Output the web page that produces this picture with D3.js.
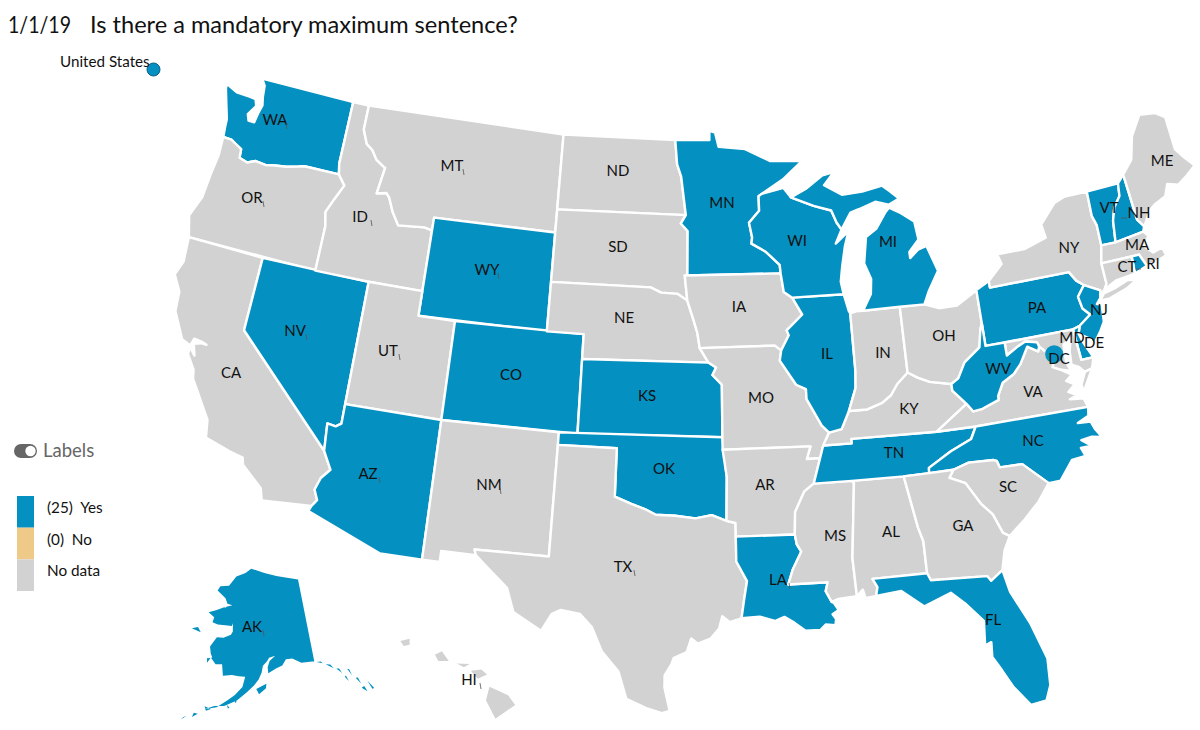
<!DOCTYPE html>
<html>
<head>
<meta charset="utf-8">
<script src="https://cdn.jsdelivr.net/npm/d3@7"></script>
<style>
  html, body { margin: 0; background: #fff; }
  text { font-family: Lato, "Open Sans", sans-serif; fill: #111; }
</style>
</head>
<body>
<div id="map"></div>
<script>
// answers
var yesStates = ["WA","NV","WY","CO","AZ","KS","OK","MN","WI","IL","MI","LA","TN","NC","FL","WV","PA","NJ","DE","VT","NH","RI","AK"];
var noStates = [];
var yesDistrict = ["DC"];
var legendLabels = ["(25)  Yes", "(0)  No", "No data"];
var titleDate = "1/1/19";
var titleText = "Is there a mandatory maximum sentence?";

// rough state outlines, lon/lat
var stateShapes = {
  WA: [[[-122.76,49],[-117.03,49],[-117.04,46.42],[-116.92,46],[-118.98,46],[-119.3,45.93],[-120,45.8],[-120.65,45.73],[-121.2,45.65],[-121.8,45.7],[-122.25,45.55],[-122.75,45.65],[-122.8,46],[-123.2,46.15],[-123.5,46.26],[-124,46.27],[-124.07,46.7],[-124.1,47],[-124.35,47.5],[-124.7,48.2],[-124.72,48.38],[-124,48.17],[-123.15,48.15],[-122.8,48.12],[-122.65,47.85],[-123,47.45],[-122.85,47.2],[-122.5,47.2],[-122.42,47.6],[-122.3,47.95],[-122.42,48.3],[-122.5,48.75]]],
  OR: [[[-124,46.27],[-123.5,46.26],[-123.2,46.15],[-122.8,46],[-122.75,45.65],[-122.25,45.55],[-121.8,45.7],[-121.2,45.65],[-120.65,45.73],[-120,45.8],[-119.3,45.93],[-118.98,46],[-116.92,46],[-116.47,45.6],[-116.85,45],[-117.2,44.4],[-117.03,43.83],[-117.03,42],[-124.21,42],[-124.55,42.84],[-124.15,43.7],[-124.07,44.7],[-123.95,45.5]]],
  CA: [[[-124.21,42],[-120,42],[-120,39],[-114.63,35],[-114.14,34.3],[-114.53,33.9],[-114.72,33.4],[-114.5,33],[-114.72,32.72],[-117.12,32.53],[-117.3,33],[-118.4,33.75],[-118.5,34.03],[-119.2,34.15],[-120.5,34.45],[-120.65,35.15],[-121.9,36.6],[-122,36.95],[-122.5,37.5],[-122.48,37.78],[-122.15,37.5],[-122.35,37.95],[-122,38.05],[-121.7,38.05],[-122,38.12],[-122.4,38.15],[-122.5,37.85],[-123,38],[-123.75,39],[-123.85,39.8],[-124.35,40.4],[-124.1,41]]],
  NV: [[[-120,42],[-114.04,42],[-114.04,36.2],[-114.3,36.05],[-114.74,36.1],[-114.63,35],[-120,39]]],
  ID: [[[-117.03,49],[-116.05,49],[-116.05,48],[-115.7,47.45],[-115.3,47.25],[-114.95,46.9],[-114.4,46.65],[-114.35,46.65],[-114.55,45.56],[-114,45.65],[-113.8,45.5],[-113.45,44.95],[-113,44.45],[-111.5,44.55],[-111.05,44.48],[-111.05,42],[-114.04,42],[-117.03,42],[-117.03,43.83],[-117.2,44.4],[-116.85,45],[-116.47,45.6],[-116.92,46],[-117.04,46.42]]],
  MT: [[[-116.05,49],[-104.05,49],[-104.05,45],[-111.05,45],[-111.05,44.48],[-111.5,44.55],[-113,44.45],[-113.45,44.95],[-113.8,45.5],[-114,45.65],[-114.55,45.56],[-114.35,46.65],[-114.4,46.65],[-114.95,46.9],[-115.3,47.25],[-115.7,47.45],[-116.05,48]]],
  WY: [[[-111.05,45],[-104.05,45],[-104.05,41],[-111.05,41]]],
  UT: [[[-114.04,42],[-111.05,42],[-111.05,41],[-109.05,41],[-109.05,37],[-114.04,37]]],
  CO: [[[-109.05,41],[-102.05,41],[-102.05,37],[-109.05,37]]],
  AZ: [[[-114.04,37],[-109.05,37],[-109.05,31.33],[-111.07,31.33],[-114.81,32.5],[-114.72,32.72],[-114.5,33],[-114.72,33.4],[-114.53,33.9],[-114.14,34.3],[-114.63,35],[-114.74,36.1],[-114.3,36.05],[-114.04,36.2]]],
  NM: [[[-109.05,37],[-103,37],[-103.04,32],[-106.62,32],[-106.53,31.78],[-108.2,31.78],[-108.2,31.33],[-109.05,31.33]]],
  ND: [[[-104.05,49],[-97.23,49],[-97.1,48],[-96.85,47.5],[-96.56,45.94],[-104.05,45.94]]],
  SD: [[[-104.05,45.94],[-96.56,45.94],[-96.85,45.6],[-96.45,45.3],[-96.45,43.5],[-96.6,43.5],[-96.45,42.49],[-97,42.76],[-97.9,42.8],[-98.5,43],[-104.05,43]]],
  NE: [[[-104.05,43],[-98.5,43],[-97.9,42.8],[-97,42.76],[-96.45,42.49],[-96.1,41.7],[-95.9,41.2],[-95.77,40.58],[-95.31,40],[-102.05,40],[-102.05,41],[-104.05,41]]],
  KS: [[[-102.05,40],[-95.31,40],[-94.9,39.8],[-95.1,39.5],[-94.61,39.11],[-94.62,37],[-102.04,37]]],
  OK: [[[-103,37],[-94.62,37],[-94.43,35.4],[-94.48,33.64],[-95.2,33.88],[-96,33.75],[-97,33.85],[-97.95,33.88],[-98.5,34.1],[-99.2,34.3],[-100,34.56],[-100,36.5],[-103,36.5]]],
  TX: [[[-103,36.5],[-100,36.5],[-100,34.56],[-99.2,34.3],[-98.5,34.1],[-97.95,33.88],[-97,33.85],[-96,33.75],[-95.2,33.88],[-94.48,33.64],[-94.04,33.55],[-94.04,33],[-94.04,32],[-93.55,31.2],[-93.7,30.5],[-93.85,29.7],[-94.4,29.55],[-94.75,29.8],[-94.9,29.3],[-95.3,28.9],[-95.9,28.7],[-96.2,28.9],[-96.4,28.35],[-97,28.1],[-97.1,27.85],[-97.4,27.4],[-97.4,26.9],[-97.15,25.95],[-97.5,25.85],[-98.2,26.05],[-99.1,26.4],[-99.5,27.5],[-100.3,28.3],[-100.8,29.25],[-101.4,29.77],[-102.3,29.88],[-102.7,29.7],[-103.15,28.98],[-104.5,29.65],[-104.9,30.6],[-106,31.4],[-106.53,31.78],[-106.62,32],[-103.04,32]]],
  MN: [[[-97.23,49],[-95.15,49],[-95.15,49.38],[-94.8,49.3],[-94.6,48.72],[-93,48.6],[-91.5,48.07],[-89.6,48],[-90.8,47.3],[-92.1,46.75],[-92.29,46.66],[-92.29,46.07],[-92.9,45.6],[-92.75,45],[-92.8,44.75],[-92,44.4],[-91.25,43.85],[-91.22,43.5],[-96.45,43.5],[-96.45,45.3],[-96.85,45.6],[-96.56,45.94],[-96.85,47.5],[-97.1,48]]],
  IA: [[[-96.6,43.5],[-91.22,43.5],[-91.1,42.75],[-90.65,42.5],[-90.15,41.8],[-91.05,41.2],[-90.95,41],[-91.4,40.4],[-91.73,40.61],[-95.77,40.58],[-95.9,41.2],[-96.1,41.7],[-96.45,42.49]]],
  MO: [[[-95.77,40.58],[-91.73,40.61],[-91.4,40.4],[-91.5,40],[-90.7,39],[-90.2,38.8],[-90.2,38.4],[-89.5,37.3],[-89.15,37],[-89.5,36.5],[-89.7,36],[-90.37,36],[-90.15,36.5],[-94.62,36.5],[-94.62,37],[-94.61,39.11],[-95.1,39.5],[-94.9,39.8],[-95.31,40]]],
  AR: [[[-94.62,36.5],[-90.15,36.5],[-90.37,36],[-89.7,36],[-90.1,35],[-90.6,34.7],[-91.1,33.9],[-91.17,33],[-94.04,33],[-94.04,33.55],[-94.48,33.64],[-94.43,35.4]]],
  LA: [[[-94.04,33],[-91.17,33],[-91.1,32.6],[-90.9,32.3],[-91.35,31.6],[-91.6,31],[-89.73,31],[-89.85,30.65],[-89.6,30.2],[-89.5,30.15],[-89.3,29.85],[-89.6,29.7],[-89.45,29.5],[-89.5,29.25],[-89.95,29.3],[-90.2,29.1],[-90.9,29.1],[-91.4,29.45],[-91.85,29.7],[-92.3,29.55],[-93,29.75],[-93.85,29.7],[-93.7,30.5],[-93.55,31.2],[-94.04,32]],
       [[-89.2,29.2],[-89,29.05],[-89.1,29]]],
  MS: [[[-90.1,35],[-88.2,35],[-88.1,34.9],[-88.47,31.9],[-88.4,30.35],[-89.3,30.3],[-89.6,30.2],[-89.85,30.65],[-89.73,31],[-91.6,31],[-91.35,31.6],[-90.9,32.3],[-91.1,32.6],[-91.17,33],[-91.1,33.9],[-90.6,34.7]]],
  AL: [[[-88.2,35],[-85.6,34.98],[-85.18,32.87],[-85,32.3],[-85,31],[-87.6,31],[-87.4,30.65],[-87.5,30.3],[-88,30.25],[-88.1,30.6],[-88.4,30.35],[-88.47,31.9],[-88.1,34.9]]],
  TN: [[[-89.7,36],[-89.5,36.5],[-88.05,36.5],[-88.05,36.68],[-83.68,36.6],[-81.68,36.59],[-82,36.12],[-83.1,35.75],[-84.3,35.2],[-84.32,34.99],[-85.6,34.98],[-88.2,35],[-90.1,35]]],
  KY: [[[-89.5,36.5],[-89.15,37],[-88.5,37.1],[-88.05,37.8],[-87.1,37.8],[-86.3,38],[-85.8,38.27],[-85.4,38.7],[-84.8,39.1],[-84.3,38.85],[-83.7,38.62],[-82.6,38.42],[-82.6,38.15],[-81.97,37.54],[-83.68,36.6],[-88.05,36.68],[-88.05,36.5]]],
  IL: [[[-90.65,42.5],[-87.8,42.49],[-87.6,41.8],[-87.53,41.7],[-87.53,39.35],[-87.6,38.7],[-88.05,37.8],[-88.5,37.1],[-89.15,37],[-89.5,37.3],[-90.2,38.4],[-90.2,38.8],[-90.7,39],[-91.5,40],[-91.4,40.4],[-90.95,41],[-91.05,41.2],[-90.15,41.8]]],
  IN: [[[-87.53,41.7],[-87.2,41.76],[-86.82,41.76],[-84.8,41.76],[-84.8,39.1],[-85.4,38.7],[-85.8,38.27],[-86.3,38],[-87.1,37.8],[-88.05,37.8],[-87.6,38.7],[-87.53,39.35]]],
  OH: [[[-84.8,41.76],[-83.45,41.73],[-82.7,41.5],[-81.7,41.5],[-80.52,41.98],[-80.52,40.64],[-80.65,40.4],[-80.85,39.7],[-81.75,39.2],[-82.2,38.6],[-82.6,38.42],[-83.7,38.62],[-84.3,38.85],[-84.8,39.1]]],
  WI: [[[-92.29,46.66],[-92.1,46.75],[-90.8,46.95],[-90.4,46.55],[-89.1,46.14],[-88.1,45.9],[-87.85,45.4],[-87.6,45.1],[-88,44.55],[-87.4,44.9],[-87.1,45.25],[-87.5,44.4],[-87.75,43.6],[-87.9,43],[-87.8,42.49],[-90.65,42.5],[-91.1,42.75],[-91.22,43.5],[-91.25,43.85],[-92,44.4],[-92.8,44.75],[-92.75,45],[-92.9,45.6],[-92.29,46.07]]],
  MI: [[[-90.4,46.55],[-89.5,46.85],[-88.45,47.35],[-87.75,47.45],[-88.4,46.95],[-87.4,46.5],[-86.2,46.55],[-85,46.7],[-84.6,46.45],[-84.1,46.1],[-84.75,45.9],[-85.5,46.08],[-86.5,45.85],[-87,45.75],[-87.6,45.1],[-87.85,45.4],[-88.1,45.9],[-89.1,46.14]],
       [[-86.82,41.76],[-86.3,42.4],[-86.2,43],[-86.5,43.65],[-86.25,44.7],[-85.6,45],[-85,45.6],[-84.75,45.78],[-84.1,45.5],[-83.4,45.1],[-83.3,44.35],[-83.9,43.9],[-83.9,43.65],[-83.4,43.95],[-82.9,44.05],[-82.45,43],[-83.1,42.25],[-83.45,41.73],[-84.8,41.76]]],
  PA: [[[-80.52,42],[-79.76,42.27],[-79.76,42],[-75.35,42],[-75.05,41.6],[-74.7,41.36],[-75.15,40.95],[-75.05,40.45],[-74.72,40.15],[-75.4,39.8],[-75.79,39.72],[-80.52,39.72],[-80.52,40.64]]],
  NY: [[[-79.76,42],[-79.76,42.27],[-78.9,42.85],[-79.05,43.27],[-77.5,43.27],[-76.2,43.55],[-76.3,44.1],[-75.3,44.85],[-74.7,45],[-73.35,45],[-73.4,44],[-73.25,43.6],[-73.27,42.75],[-73.5,42.05],[-73.49,41.2],[-73.66,41],[-73.92,40.8],[-74,40.7],[-73.9,41],[-74.7,41.36],[-75.05,41.6],[-75.35,42]],
       [[-74.03,40.6],[-73.75,40.85],[-73.1,40.95],[-72.3,41.15],[-71.9,41.05],[-72.5,40.82],[-73.5,40.6]]],
  NJ: [[[-74.7,41.36],[-73.9,41],[-74,40.7],[-74.25,40.5],[-74,40.45],[-74.1,39.75],[-74.4,39.4],[-74.9,38.93],[-75,39.2],[-75.55,39.5],[-75.4,39.8],[-74.72,40.15],[-75.05,40.45],[-75.15,40.95]]],
  DE: [[[-75.79,39.72],[-75.4,39.8],[-75.55,39.5],[-75.4,39.1],[-75.05,38.45],[-75.7,38.45]]],
  MD: [[[-79.49,39.72],[-75.79,39.72],[-75.7,38.45],[-75.05,38.45],[-75.25,38.03],[-75.65,37.95],[-75.9,38.2],[-76.25,38.35],[-76.2,38.9],[-76,39.4],[-76.45,39.2],[-76.5,38.5],[-76.35,38.1],[-76.9,38.25],[-77.25,38.4],[-77.04,38.79],[-77.12,38.93],[-77.5,39.1],[-77.73,39.32],[-77.8,39.5],[-78.4,39.62],[-78.9,39.45],[-79.49,39.2]]],
  VA: [[[-83.68,36.6],[-81.97,37.54],[-81.68,37.2],[-81.2,37.25],[-80.3,37.5],[-80.3,37.65],[-79.95,38.15],[-79.3,38.42],[-78.87,38.76],[-78.35,39.4],[-77.83,39.13],[-77.73,39.32],[-77.5,39.1],[-77.12,38.93],[-77.04,38.79],[-77.25,38.4],[-76.9,38.25],[-76.35,37.95],[-76.7,37.75],[-76.3,37.55],[-76.7,37.3],[-76.3,37.1],[-76.7,37],[-76.3,36.95],[-76,36.92],[-75.87,36.55],[-81.68,36.59]],
       [[-75.65,37.95],[-75.25,38.03],[-75.95,37.15],[-75.95,37.5]]],
  WV: [[[-80.52,40.64],[-80.52,39.72],[-79.49,39.72],[-79.49,39.2],[-78.9,39.45],[-78.4,39.62],[-77.8,39.5],[-77.73,39.32],[-77.83,39.13],[-78.35,39.4],[-78.87,38.76],[-79.3,38.42],[-79.95,38.15],[-80.3,37.65],[-80.3,37.5],[-81.2,37.25],[-81.68,37.2],[-81.97,37.54],[-82.6,38.15],[-82.6,38.42],[-82.2,38.6],[-81.75,39.2],[-80.85,39.7],[-80.65,40.4]]],
  NC: [[[-84.32,34.99],[-84.3,35.2],[-83.1,35.75],[-82,36.12],[-81.68,36.59],[-75.87,36.55],[-75.95,36.2],[-76.55,36],[-75.9,35.95],[-75.75,35.6],[-75.5,35.25],[-76,35.35],[-76.55,35.3],[-76.1,35],[-76.65,35],[-76.5,34.65],[-77.2,34.6],[-77.95,33.87],[-78.55,33.86],[-79.67,34.8],[-80.8,34.82],[-80.9,35.1],[-81.05,35.15],[-82.3,35.2],[-83.1,35]]],
  SC: [[[-83.1,35],[-82.3,35.2],[-81.05,35.15],[-80.9,35.1],[-80.8,34.82],[-79.67,34.8],[-78.55,33.86],[-79.2,33.2],[-80,32.6],[-80.85,32.03],[-81.15,32.2],[-81.5,33],[-82,33.5],[-82.6,34.4],[-83.35,34.7]]],
  GA: [[[-85.6,34.98],[-84.32,34.99],[-83.1,35],[-83.35,34.7],[-82.6,34.4],[-82,33.5],[-81.5,33],[-81.15,32.2],[-80.85,32.03],[-81.2,31.5],[-81.45,30.72],[-82.05,30.36],[-82.2,30.57],[-84.86,30.7],[-85,31],[-85,32.3],[-85.18,32.87]]],
  FL: [[[-87.6,31],[-85,31],[-84.86,30.7],[-82.2,30.57],[-82.05,30.36],[-81.45,30.72],[-81.25,29.8],[-80.55,28.4],[-80.05,26.9],[-80.12,25.8],[-80.4,25.2],[-81.1,25.12],[-81.75,25.95],[-82.15,26.7],[-82.5,27.3],[-82.45,27.9],[-82.75,27.8],[-82.65,28.8],[-83.4,29.6],[-84,30.1],[-85.3,29.68],[-86.3,30.4],[-87.5,30.3],[-87.4,30.65]]],
  VT: [[[-73.35,45],[-71.5,45.01],[-71.6,44.5],[-72.05,44.1],[-72.3,43.6],[-72.46,42.73],[-73.27,42.75],[-73.25,43.6],[-73.4,44]]],
  NH: [[[-71.5,45.01],[-71.08,45.3],[-70.98,43.4],[-70.7,43.07],[-70.82,42.87],[-72.46,42.73],[-72.3,43.6],[-72.05,44.1],[-71.6,44.5]]],
  ME: [[[-71.08,45.3],[-70.4,45.8],[-70,46.7],[-69.23,47.46],[-68.3,47.35],[-67.8,47.07],[-67.8,45.7],[-67.45,45.3],[-67,44.85],[-67.6,44.55],[-68.2,44.3],[-68.8,44.45],[-69.1,44],[-69.8,43.8],[-70.2,43.6],[-70.55,43.2],[-70.7,43.07],[-70.98,43.4]]],
  MA: [[[-73.27,42.75],[-72.46,42.73],[-70.82,42.87],[-70.6,42.65],[-71,42.3],[-70.6,41.95],[-70.05,42.05],[-69.95,41.7],[-70.65,41.55],[-71.12,41.5],[-71.38,42.02],[-71.8,42.02],[-73.5,42.05]]],
  RI: [[[-71.8,42.02],[-71.38,42.02],[-71.12,41.5],[-71.85,41.32]]],
  CT: [[[-73.5,42.05],[-71.8,42.02],[-71.85,41.32],[-72.9,41.25],[-73.66,41],[-73.49,41.2]]],
  AK: [[[-141,69.65],[-144,70],[-148,70.4],[-152,70.85],[-156.6,71.35],[-158.5,70.8],[-161.5,70.3],[-163.5,69.1],[-166.2,68.9],[-166.8,68.35],[-164,67.6],[-163.2,67],[-161.7,66.9],[-163.7,66.6],[-162,66.1],[-161,66.25],[-164,66.55],[-166,66.1],[-168.1,65.65],[-166.3,65.2],[-166.5,64.6],[-165,64.45],[-163,64.5],[-161.2,64.5],[-161,64.85],[-160.8,63.9],[-161.2,63.5],[-163,63.05],[-164.7,63],[-166,61.8],[-165.5,61],[-165,60.6],[-165.3,60.55],[-164,59.9],[-162.5,60],[-162,58.7],[-160,58.9],[-158.5,58.8],[-157,58.8],[-157.5,57.6],[-159,56.6],[-160.5,55.9],[-162.5,55],[-164.8,54.55],[-163,55.1],[-161,55.25],[-158.5,56],[-156.5,57],[-155,57.8],[-154,58.5],[-153.3,59.3],[-153,60.1],[-152,60.6],[-151.5,61],[-150,61.2],[-151.4,60.6],[-151.9,59.9],[-151.8,59.2],[-150,59.7],[-148.5,60],[-147.5,60.7],[-146,60.7],[-144,60.05],[-141.5,60],[-141,59.95]],
       [[-154.5,57.4],[-152.3,58],[-152.4,57.5],[-153.9,56.8]],
       [[-171.5,63.4],[-169,63.2],[-170,63.7]],
       [[-166.2,60.4],[-165.4,60.5],[-166,59.9]],
       [[-140.5,59.85],[-139.2,59.55],[-139.5,59.8]],
       [[-138.6,59.35],[-137,58.7],[-137.6,59.2]],
       [[-136.5,58.6],[-135.5,57.9],[-135.9,58.5]],
       [[-135.2,57.4],[-134.6,56.8],[-134.9,57.5]],
       [[-134.2,58.2],[-133.6,57.3],[-133.8,58.1]],
       [[-133,56.9],[-132.3,56.1],[-132.6,56.9]],
       [[-132.5,55.6],[-131.6,55],[-131.9,55.7]],
       [[-130.9,56.2],[-130.1,55.1],[-130.5,55.1]],
       [[-164.9,54.9],[-163.6,54.7],[-164.5,54.4]],
       [[-166.8,53.95],[-166,53.9],[-167,53.4]],
       [[-168.6,53.2],[-168.1,53.4],[-169,52.85]],
       [[-160.5,55.4],[-159.9,55.1],[-160.2,55]],
       [[-159,56],[-158.5,55.85],[-158.8,55.7]]],
  HI: [[[-155.9,20.25],[-155.1,19.9],[-154.8,19.5],[-155.65,18.95],[-156.05,19.7]],
       [[-156.7,20.9],[-156.25,20.95],[-156,20.75],[-156.4,20.58]],
       [[-157.3,21.2],[-156.75,21.18],[-157,21.05]],
       [[-158.25,21.55],[-157.95,21.7],[-157.65,21.3],[-158.1,21.3]],
       [[-159.75,22.1],[-159.35,22.2],[-159.35,21.95],[-159.6,21.9]]]
};
var districtPoint = [-77.03, 38.9];

var colors = { yes: "#0490c0", no: "#efc987", none: "#d2d2d2" };

// label spots and the little leader ticks, in page pixels
var labelPos = {
  WA:[275,120],OR:[252,198],CA:[231,373],NV:[295,331],ID:[360,217],MT:[452,166],WY:[487,270],UT:[388,351],AZ:[368,474],CO:[511,375],
  NM:[489,485],ND:[618,171],SD:[618,247],NE:[624,318],KS:[647,396],OK:[664,469],TX:[623,567],MN:[722,203],IA:[739,307],MO:[761,398],
  AR:[765,485],LA:[778,580],WI:[797,241],IL:[827,354],MI:[888,242],IN:[883,353],OH:[944,336],KY:[909,409],TN:[894,453],MS:[835,536],
  AL:[891,532],GA:[963,526],FL:[993,620],SC:[1008,487],NC:[1033,441],VA:[1033,392],WV:[998,369],PA:[1037,308],NY:[1069,248],ME:[1162,161],
  VT:[1109,208],NH:[1139,213],MA:[1137,245],CT:[1127,267],RI:[1153,264],NJ:[1099,310],DE:[1094,343],MD:[1072,338],DC:[1059,359],AK:[252,627],HI:[469,680]
};
var tickStates = ["WA","OR","ID","MT","WY","NV","UT","AZ","NM","TX","AK","HI","LA"];
var sideTickStates = ["NH","RI"];
var noOutline = ["AK","HI"];

var width = 1200, height = 730;

var svg = d3.select("#map").append("svg")
    .attr("width", width)
    .attr("height", height)
    .style("display", "block");

var projection = d3.geoAlbersUsa()
    .scale(1415)
    .translate([684, 395]);
var path = d3.geoPath(projection);

// d3 wants clockwise rings, flip any that came out the wrong way
function toFeature(id) {
    var rings = stateShapes[id].map(ring => {
        var closed = ring.concat([ring[0]]);
        var area = d3.geoArea({ type: "Polygon", coordinates: [closed] });
        return [area > 2 * Math.PI ? closed.reverse() : closed];
    });
    return { type: "Feature", id: id, geometry: { type: "MultiPolygon", coordinates: rings } };
}

function stateColor(id) {
    if (yesStates.includes(id)) return colors.yes;
    if (noStates.includes(id)) return colors.no;
    return colors.none;
}

var features = Object.keys(stateShapes).map(toFeature);

svg.append("g")
    .selectAll("path")
    .data(features)
    .join("path")
    .attr("d", path)
    .attr("fill", d => stateColor(d.id))
    .attr("stroke", d => noOutline.includes(d.id) ? "none" : "#fff")
    .attr("stroke-width", 2.4)
    .attr("stroke-linejoin", "round");

// DC and the national value are dots, not shapes
svg.append("circle")
    .attr("cx", projection(districtPoint)[0])
    .attr("cy", projection(districtPoint)[1])
    .attr("r", 9)
    .attr("fill", yesDistrict.includes("DC") ? colors.yes : colors.none);

svg.append("circle")
    .attr("cx", 153.5)
    .attr("cy", 69.5)
    .attr("r", 6.5)
    .attr("fill", colors.yes)
    .attr("stroke", "#0a5d80")
    .attr("stroke-width", 1);

svg.append("text")
    .attr("x", 60)
    .attr("y", 67)
    .attr("font-size", 15.2)
    .text("United States");

// state labels
var labels = svg.append("g")
    .selectAll("g")
    .data(Object.keys(labelPos))
    .join("g")
    .attr("transform", d => `translate(${labelPos[d][0]},${labelPos[d][1]})`);

labels.append("text")
    .attr("text-anchor", "middle")
    .attr("dy", "0.35em")
    .attr("font-size", 15)
    .text(d => d);

labels.filter(d => tickStates.includes(d))
    .append("line")
    .attr("x1", 11).attr("y1", 3)
    .attr("x2", 12).attr("y2", 9)
    .attr("stroke", "#555")
    .attr("stroke-width", 0.8);

labels.filter(d => sideTickStates.includes(d))
    .append("line")
    .attr("x1", -18).attr("y1", 5)
    .attr("x2", -12).attr("y2", 5)
    .attr("stroke", "#555")
    .attr("stroke-width", 0.8);

// title
var title = svg.append("text")
    .attr("x", 8)
    .attr("y", 33)
    .attr("font-size", 23.6);
title.append("tspan").attr("textLength", 63).attr("lengthAdjust", "spacingAndGlyphs").text(titleDate);
title.append("tspan").attr("x", 90).text(titleText);

// labels toggle
svg.append("rect")
    .attr("x", 14).attr("y", 444)
    .attr("width", 23).attr("height", 14)
    .attr("rx", 7)
    .attr("fill", "#666");
svg.append("circle")
    .attr("cx", 30.5).attr("cy", 451)
    .attr("r", 5.2)
    .attr("fill", "#fff");
svg.append("text")
    .attr("x", 43).attr("y", 457)
    .attr("font-size", 18.5)
    .style("fill", "#666")
    .text("Labels");

// legend
var legendColors = [colors.yes, colors.no, colors.none];
var legendY = d3.scaleBand()
    .domain(d3.range(legendLabels.length))
    .range([496, 591]);

svg.append("g")
    .selectAll("rect")
    .data(legendLabels)
    .join("rect")
    .attr("x", 17)
    .attr("y", (d, i) => legendY(i))
    .attr("width", 17)
    .attr("height", legendY.bandwidth())
    .attr("fill", (d, i) => legendColors[i]);

svg.append("g")
    .selectAll("text")
    .data(legendLabels)
    .join("text")
    .attr("x", 47)
    .attr("y", (d, i) => legendY(i) + 17)
    .attr("font-size", 15.3)
    .style("white-space", "pre")
    .attr("xml:space", "preserve")
    .text(d => d);
</script>
</body>
</html>
